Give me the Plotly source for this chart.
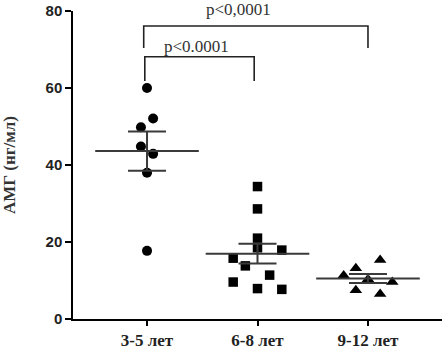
import numpy as np
import plotly.graph_objects as go

categories = ["3-5 лет", "6-8 лет", "9-12 лет"]
group_3_5 = [60.0, 52.1, 49.8, 44.8, 42.9, 38.0, 17.7]
group_6_8 = [34.4, 28.6, 21.0, 18.5, 17.9, 15.8, 13.8, 11.4, 9.6, 7.9, 7.7]
group_9_12 = [15.3, 13.2, 11.3, 10.3, 9.6, 7.5, 6.5]
# horizontal column slots of the scatter (dot-plot arrangement)
slots_3_5 = [0, 0.5, -0.5, -0.5, 0.5, 0, 0]
slots_6_8 = [0, 0, 0, 0, 2, -2, -1, 1, -2, 0, 2]
slots_9_12 = [1, -1, -2, 0, 2, -1, 1]
y_ticks = [0, 20, 40, 60, 80]
p_labels = ["p<0,0001", "p<0.0001"]

groups = [group_3_5, group_6_8, group_9_12]
slots = [slots_3_5, slots_6_8, slots_9_12]
symbols = ["circle", "square", "triangle-up"]
sizes = [10, 9.5, 11]
slot_w = 0.11
bar_col = "#3a3a3a"

fig = go.Figure()
for i, (vals, sl, sym, sz) in enumerate(zip(groups, slots, symbols, sizes)):
    v = np.array(vals)
    fig.add_trace(go.Scatter(
        x=[i + s * slot_w for s in sl], y=v, mode="markers",
        marker=dict(symbol=sym, size=sz, color="black"),
        showlegend=False, hoverinfo="y"))
    mean = v.mean()
    sem = v.std(ddof=1) / np.sqrt(len(v))
    fig.add_trace(go.Scatter(
        x=[i], y=[mean], mode="markers",
        marker=dict(symbol="line-ew-open", size=74, color=bar_col, line=dict(width=2, color=bar_col)),
        error_y=dict(type="data", array=[sem], visible=True, width=19, thickness=2, color=bar_col),
        showlegend=False, hoverinfo="y"))

line_style = dict(color="#222", width=1.6)
# wide bracket 3-5 vs 9-12
fig.add_trace(go.Scatter(x=[-0.03, -0.03, 2.0, 2.0], y=[70.4, 76.1, 76.1, 70.4],
                         mode="lines", line=line_style, showlegend=False, hoverinfo="skip"))
# narrow bracket 3-5 vs 6-8
fig.add_trace(go.Scatter(x=[-0.02, -0.02, 0.97, 0.97], y=[61.8, 68.1, 68.1, 61.8],
                         mode="lines", line=line_style, showlegend=False, hoverinfo="skip"))

ann_font = dict(family="Liberation Serif", size=17, color="#333")
fig.add_annotation(x=0.83, xref="x", y=80.3 / 80, yref="paper", text=p_labels[0], showarrow=False,
                   font=ann_font, yanchor="middle", xanchor="center")
fig.add_annotation(x=0.45, y=70.7, text=p_labels[1], showarrow=False, font=ann_font,
                   yanchor="middle", xanchor="center")

fig.update_layout(
    width=447, height=349,
    margin=dict(l=73, r=5, t=11, b=30),
    plot_bgcolor="white", paper_bgcolor="white",
    xaxis=dict(range=[-0.67, 2.67], tickmode="array", tickvals=[0, 1, 2], ticktext=categories,
               automargin=False,
               showgrid=False, zeroline=False, showline=True, linecolor="black", linewidth=1.5,
               ticks="outside", ticklen=5, tickwidth=1.5, tickcolor="black",
               tickfont=dict(family="Liberation Serif", size=17, color="#222", weight="bold")),
    yaxis=dict(range=[0, 80], tickvals=y_ticks, showgrid=False, zeroline=False, automargin=False,
               showline=True, linecolor="black", linewidth=1.5,
               ticks="outside", ticklen=6, tickwidth=1.5, tickcolor="black",
               tickfont=dict(family="Liberation Sans", size=15, color="#222", weight="bold"),
               title=dict(text="АМГ (нг/мл)", standoff=28,
                          font=dict(family="Liberation Serif", size=17, color="#333", weight="bold"))),
)
fig.write_html("out.html", config={"displayModeBar": False},
               post_script="document.body.style.margin='0';")
